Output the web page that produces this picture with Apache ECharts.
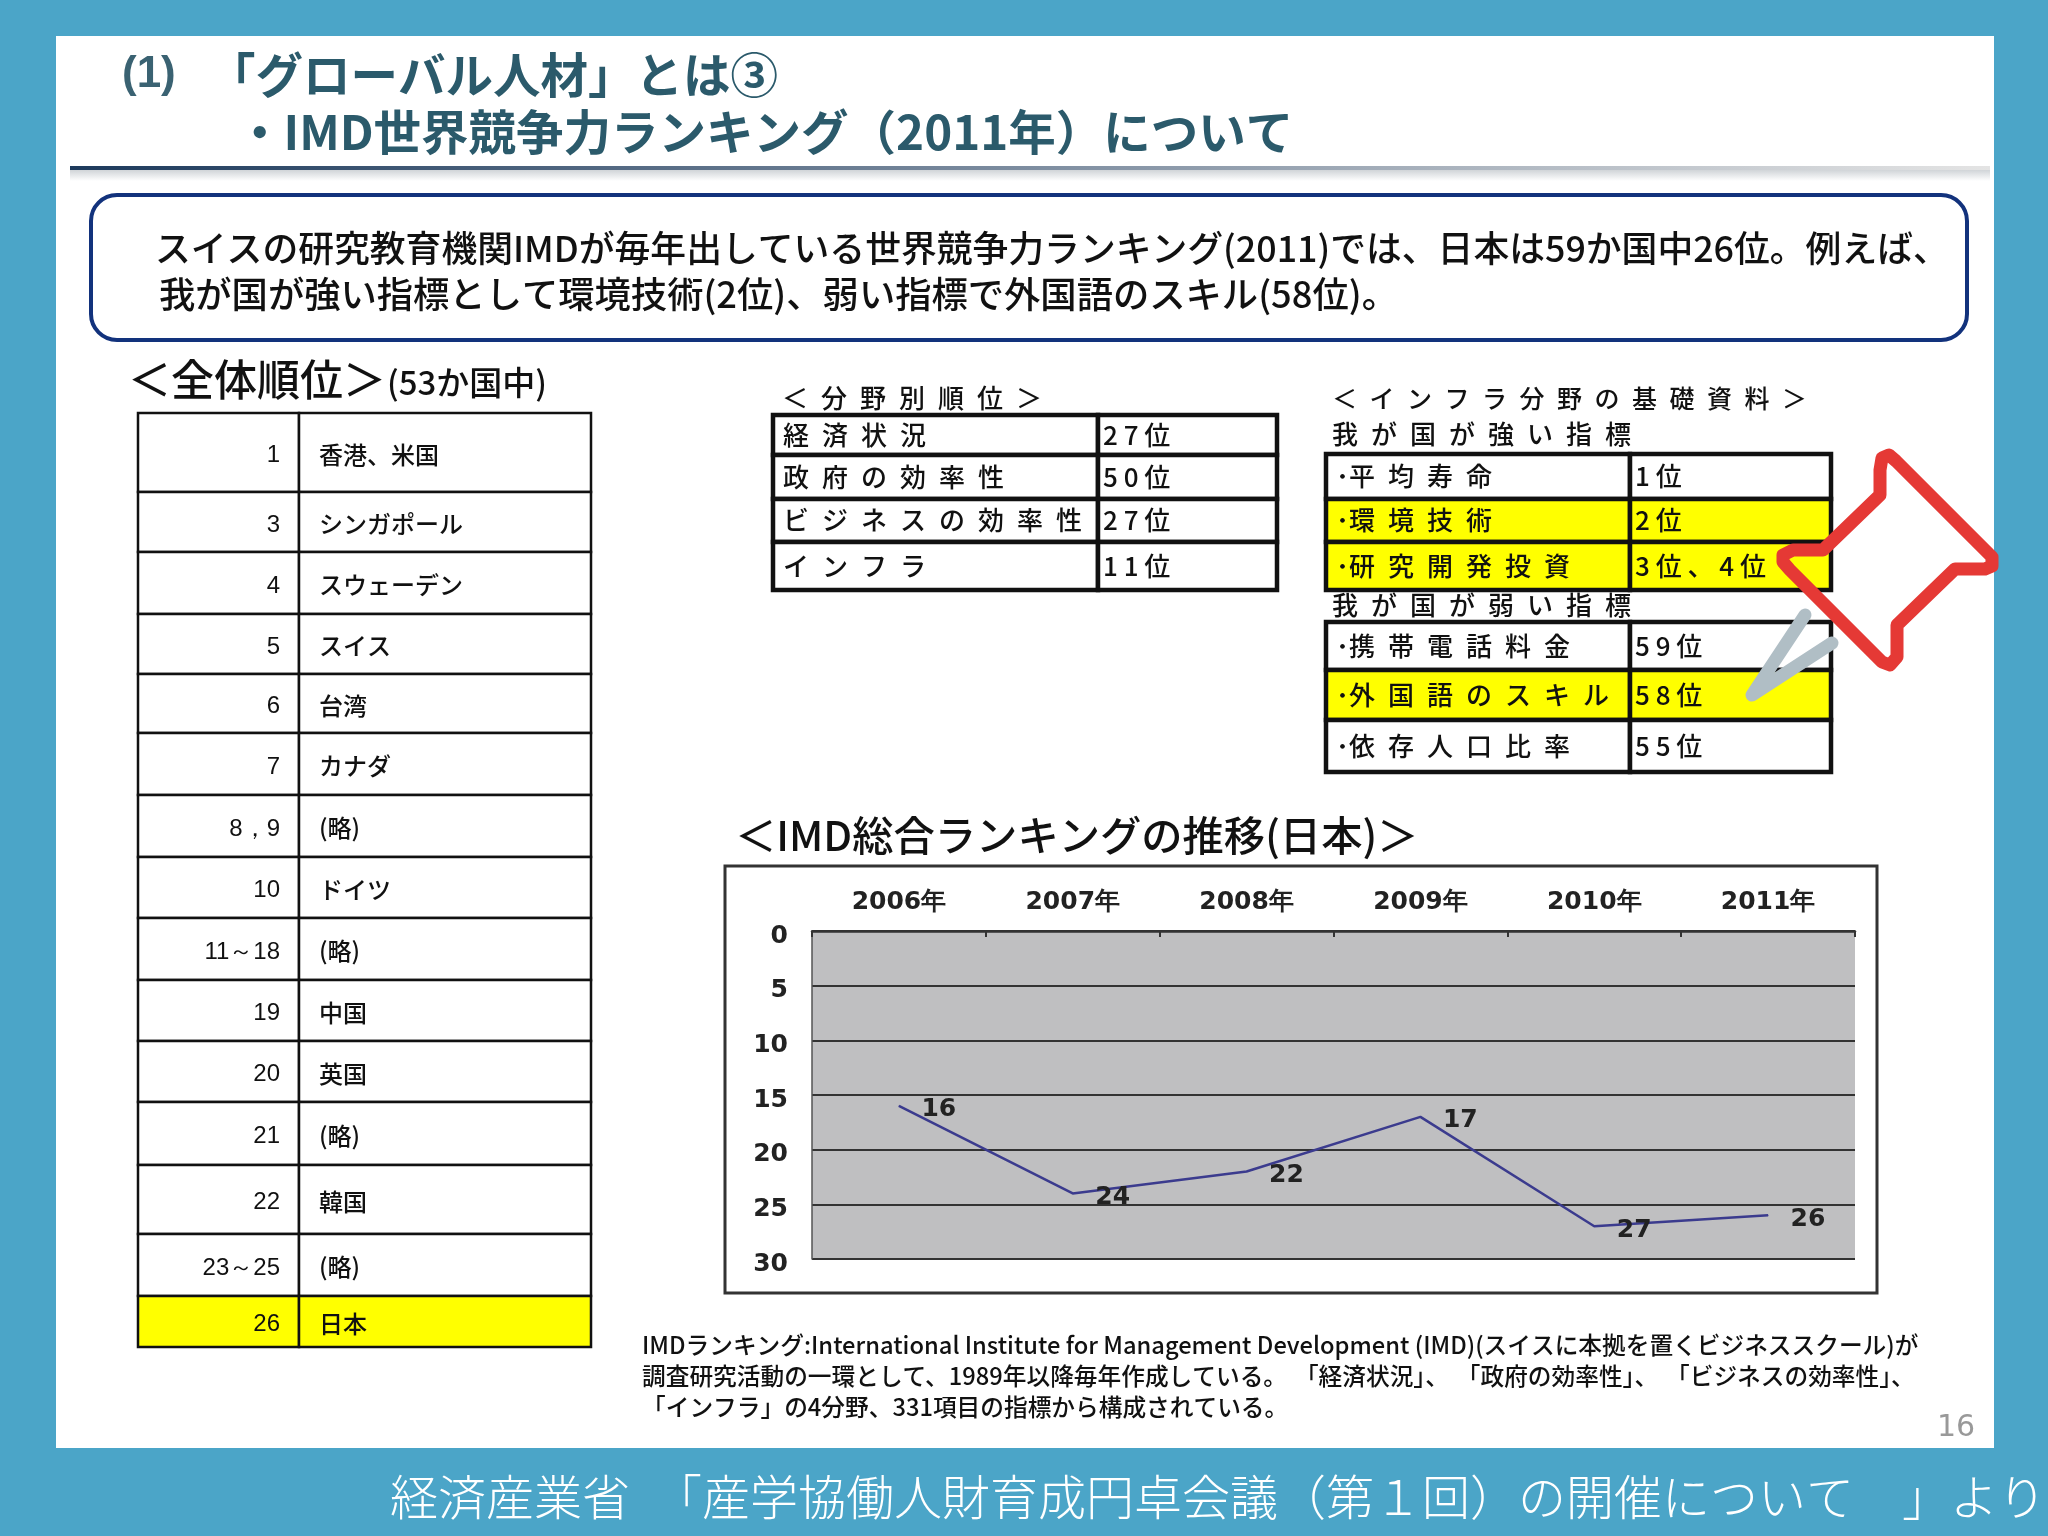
<!DOCTYPE html>
<html>
<head>
<meta charset="utf-8">
<style>
  html, body { margin: 0; padding: 0; background: #4ba5c8; }
  #main { width: 2048px; height: 1536px; }
</style>
<script src="https://cdn.jsdelivr.net/npm/echarts@6/dist/echarts.min.js"></script>
</head>
<body>
<div id="main"></div>
<script>
// データ
const years = ['2006年', '2007年', '2008年', '2009年', '2010年', '2011年'];
const japanRanks = [16, 24, 22, 17, 27, 26];

const overallRanks = ['1', '3', '4', '5', '6', '7', '8，9', '10', '11～18', '19', '20', '21', '22', '23～25', '26'];
const overallNames = ['香港、米国', 'シンガポール', 'スウェーデン', 'スイス', '台湾', 'カナダ', '(略)', 'ドイツ', '(略)', '中国', '英国', '(略)', '韓国', '(略)', '日本'];

const fieldNames = ['経済状況', '政府の効率性', 'ビジネスの効率性', 'インフラ'];
const fieldRanks = ['27位', '50位', '27位', '11位'];

const strongNames = ['平均寿命', '環境技術', '研究開発投資'];
const strongRanks = ['1位', '2位', '3位、4位'];
const weakNames = ['携帯電話料金', '外国語のスキル', '依存人口比率'];
const weakRanks = ['59位', '58位', '55位'];

// 行の区切り位置（レイアウト）
const overallEdges = [413, 492, 552, 614, 674, 733, 795, 857, 918, 980, 1041, 1102, 1165, 1234, 1296, 1347];
const fieldEdges = [415, 455, 499, 542, 590];
const strongEdges = [454, 499, 542, 590];
const weakEdges = [622, 670, 720, 772];

const JP = '"Noto Sans CJK JP"';
const YELLOW = '#ffff00';

function text(str, x, y, size, opt) {
  opt = opt || {};
  return {
    type: 'text',
    z: opt.z || 5,
    style: {
      text: str,
      x: x,
      y: y,
      fill: opt.color || '#111111',
      fontSize: size,
      fontFamily: opt.family || JP,
      fontWeight: opt.weight || 500,
      align: opt.align || 'left',
      verticalAlign: 'middle'
    }
  };
}

function rect(x, y, w, h, fill, stroke, lineWidth, r) {
  return {
    type: 'rect',
    z: 3,
    shape: { x: x, y: y, width: w, height: h, r: r || 0 },
    style: { fill: fill, stroke: stroke || null, lineWidth: lineWidth || 0 }
  };
}

// 字間を空ける
const spaced = s => s.split('').join('\u2002');
const spacedRank = s => s.split('').join(' ');

function table(t) {
  let els = [];
  for (let i = 0; i < t.left.length; i++) {
    let y0 = t.edges[i], h = t.edges[i + 1] - y0;
    let fill = t.yellow.indexOf(i) >= 0 ? YELLOW : '#ffffff';
    els.push(rect(t.x0, y0, t.x1 - t.x0, h, fill, '#111', t.lw));
    els.push(rect(t.x1, y0, t.x2 - t.x1, h, fill, '#111', t.lw));
    let cy = y0 + h / 2;
    els.push(t.drawLeft(t.left[i], cy));
    els.push(t.drawRight(t.right[i], cy));
  }
  return els;
}

const overallTable = table({
  x0: 138, x1: 299, x2: 591, edges: overallEdges, lw: 2.5,
  left: overallRanks, right: overallNames, yellow: [14],
  drawLeft: (s, cy) => text(s, 280, cy + 3, 24, { align: 'right', family: '"Liberation Sans"' }),
  drawRight: (s, cy) => text(s, 319, cy + 2, 24)
});

const fieldTable = table({
  x0: 773, x1: 1098, x2: 1277, edges: fieldEdges, lw: 4.5,
  left: fieldNames, right: fieldRanks, yellow: [],
  drawLeft: (s, cy) => text(spaced(s), 783, cy, 26),
  drawRight: (s, cy) => text(spacedRank(s), 1103, cy, 26)
});

const strongTable = table({
  x0: 1326, x1: 1630, x2: 1831, edges: strongEdges, lw: 4.5,
  left: strongNames, right: strongRanks, yellow: [1, 2],
  drawLeft: (s, cy) => text('･' + spaced(s), 1336, cy, 26),
  drawRight: (s, cy) => text(spacedRank(s), 1635, cy, 26)
});

const weakTable = table({
  x0: 1326, x1: 1630, x2: 1831, edges: weakEdges, lw: 4.5,
  left: weakNames, right: weakRanks, yellow: [1],
  drawLeft: (s, cy) => text('･' + spaced(s), 1336, cy, 26),
  drawRight: (s, cy) => text(spacedRank(s), 1635, cy, 26)
});

const slide = [
  // スライド地
  { type: 'rect', z: -2, shape: { x: 56, y: 36, width: 1938, height: 1412 }, style: { fill: '#ffffff' } },
  // 見出し下の線
  {
    type: 'rect', z: 1, shape: { x: 70, y: 166, width: 1920, height: 4 },
    style: { fill: new echarts.graphic.LinearGradient(0, 0, 1, 0, [
      { offset: 0, color: '#1d3a5c' }, { offset: 0.5, color: '#7d8da0' }, { offset: 1, color: '#e4e4e4' }
    ]) }
  },
  {
    type: 'rect', z: 1, shape: { x: 70, y: 170, width: 1920, height: 11 },
    style: { fill: new echarts.graphic.LinearGradient(0, 0, 0, 1, [
      { offset: 0, color: '#d0d4d8' }, { offset: 1, color: '#ffffff' }
    ]) }
  },
  text('(1)', 122, 75, 44, { color: '#3a6272', family: '"Liberation Sans"', weight: 'bold' }),
  text('「グローバル人材」とは③', 208, 75, 47.5, { color: '#2b5a6b', weight: 'bold' }),
  text('・IMD世界競争力ランキング（2011年）について', 236, 132, 47.5, { color: '#2b5a6b', weight: 'bold' }),
  // 説明枠
  rect(91, 195, 1876, 145, '#ffffff', '#12327c', 4, 26),
  text('スイスの研究教育機関IMDが毎年出している世界競争力ランキング(2011)では、日本は59か国中26位。例えば、', 155, 248, 35.8),
  text('我が国が強い指標として環境技術(2位)、弱い指標で外国語のスキル(58位)。', 159, 294, 36.3),
  // 各表の見出し
  text('＜全体順位＞', 128, 380, 43),
  text('(53か国中)', 387, 382, 33),
  text(spaced('＜分野別順位＞'), 782, 398, 26),
  text(spaced('＜インフラ分野の基礎資料＞'), 1332, 398, 25),
  text(spaced('我が国が強い指標'), 1332, 434, 26),
  text(spaced('我が国が弱い指標'), 1332, 605, 26),
  text('＜IMD総合ランキングの推移(日本)＞', 735, 835, 41.3),
  // グラフ枠
  rect(725, 866, 1152, 427, '#ffffff', '#333', 3),
  // 注記
  text('IMDランキング:International Institute for Management Development (IMD)(スイスに本拠を置くビジネススクール)が', 642, 1345, 23.7),
  text('調査研究活動の一環として、1989年以降毎年作成している。\u2004「経済状況」、\u2004「政府の効率性」、\u2004「ビジネスの効率性」、', 642, 1376, 23.7),
  text('「インフラ」の4分野、331項目の指標から構成されている。', 642, 1407, 23.7),
  text('16', 1937, 1428, 30, { color: '#999999', family: '"DejaVu Sans"', weight: 'normal' }),
  text('経済産業省　「産学協働人財育成円卓会議（第１回）の開催について　」より', 390, 1497, 48, { color: '#ffffff', weight: 300 }),
  // 赤い手書き線
  {
    type: 'polygon', z: 20,
    shape: { points: [
      [1880, 495], [1880, 470], [1882, 458], [1889, 455], [1896, 461], [1983, 548], [1992, 557], [1992, 566], [1985, 569],
      [1955, 569], [1897, 625], [1897, 657], [1890, 665], [1882, 662], [1790, 570], [1783, 562], [1783, 555], [1793, 550], [1823, 550]
    ] },
    style: { fill: 'rgba(255,255,255,0)', stroke: '#e53935', lineWidth: 13, lineJoin: 'round' }
  },
  // 灰色の手書き線
  {
    type: 'polyline', z: 20,
    shape: { points: [[1805, 615], [1752, 695], [1832, 643]] },
    style: { fill: 'none', stroke: '#b0bec5', lineWidth: 13, lineCap: 'round', lineJoin: 'round' }
  }
];

const myChart = echarts.init(document.getElementById('main'));

const chartFont = { fontSize: 25, color: '#222', fontFamily: '"DejaVu Sans"', fontWeight: 'bold' };

const option = {
  backgroundColor: '#4ba5c8',
  animation: false,
  graphic: { elements: slide.concat(overallTable, fieldTable, strongTable, weakTable) },
  grid: {
    left: 812,
    right: 193,
    top: 931,
    height: 328,
    show: true,
    backgroundColor: '#bfbfc1',
    borderWidth: 0,
    z: 10
  },
  xAxis: {
    type: 'category',
    position: 'top',
    data: years,
    z: 12,
    axisLine: { show: true, lineStyle: { color: '#333', width: 2.5 } },
    axisTick: { show: true, inside: true, length: 6, lineStyle: { color: '#333', width: 2 } },
    axisLabel: Object.assign({ margin: 16 }, chartFont),
    splitLine: { show: false }
  },
  yAxis: {
    type: 'value',
    inverse: true,
    min: 0,
    max: 30,
    interval: 5,
    z: 12,
    axisLine: { show: true, lineStyle: { color: '#555', width: 1.5 } },
    axisTick: { show: false },
    axisLabel: {
      margin: 24,
      formatter: '{n|{value}}',
      rich: { n: Object.assign({ padding: [10, 0, 0, 0] }, chartFont) }
    },
    splitLine: { show: true, lineStyle: { color: '#333', width: 2 } }
  },
  series: [
    {
      type: 'line',
      data: japanRanks,
      z: 13,
      symbol: 'circle',
      symbolSize: 1,
      itemStyle: { color: '#3b3b8e' },
      lineStyle: { color: '#3b3b8e', width: 2.5 },
      label: Object.assign({
        show: true,
        position: 'right',
        distance: 22,
        offset: [0, 4]
      }, chartFont)
    }
  ]
};

option && myChart.setOption(option);
</script>
</body>
</html>
